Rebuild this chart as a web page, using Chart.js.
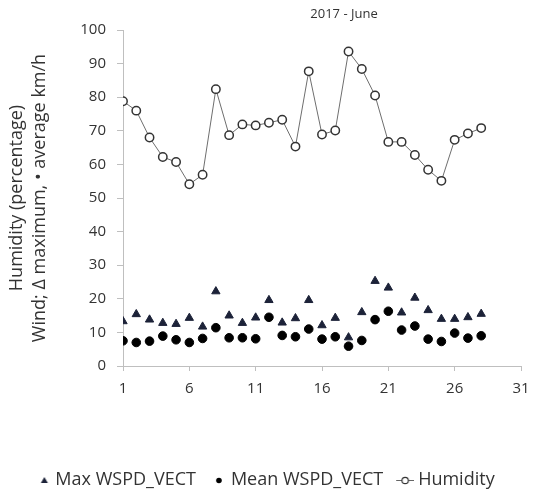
<!DOCTYPE html>
<html>
<head>
<meta charset="utf-8">
<script src="https://cdn.jsdelivr.net/npm/chart.js@4.4.0/dist/chart.umd.min.js"></script>
<style>
  html, body { margin: 0; padding: 0; background: #fff; }
  #wrap { width: 560px; height: 501px; }
</style>
</head>
<body>
<div id="wrap"><canvas id="chart" width="560" height="501"></canvas></div>
<script>
// day of month (June 2017)
const days = [1, 2, 3, 4, 5, 6, 7, 8, 9, 10, 11, 12, 13, 14, 15, 16, 17, 18, 19, 20, 21, 22, 23, 24, 25, 26, 27, 28];

// wind speed, km/h
const maxWspd = [13.3, 15.4, 13.8, 12.8, 12.5, 14.3, 11.7, 22.2, 15.0, 12.8, 14.4, 19.6, 12.9, 14.2,
                 19.6, 12.1, 14.3, 8.5, 16.0, 25.3, 23.3, 15.9, 20.3, 16.6, 14.0, 14.0, 14.5, 15.5];
const meanWspd = [7.5, 7.0, 7.4, 8.9, 7.8, 7.0, 8.2, 11.4, 8.4, 8.4, 8.1, 14.5, 9.1, 8.7,
                  11.0, 8.0, 8.7, 5.9, 7.6, 13.8, 16.3, 10.7, 11.9, 8.0, 7.3, 9.8, 8.3, 9.0];

// relative humidity, %
const humidity = [78.8, 76.0, 68.0, 62.2, 60.7, 54.1, 56.9, 82.4, 68.7, 71.9, 71.6, 72.4, 73.3, 65.3,
                  87.7, 68.9, 70.1, 93.6, 88.4, 80.5, 66.7, 66.7, 62.8, 58.4, 55.1, 67.3, 69.2, 70.8];

const xTicks = [1, 6, 11, 16, 21, 26, 31];
const seriesNames = ['Max WSPD_VECT', 'Mean WSPD_VECT', 'Humidity'];
const chartTitle = '2017 - June';

const FONT = "'Open Sans', 'DejaVu Sans', sans-serif";
const TEXT = '#333333';
const AXIS = '#bfbfbf';

function pts(vals) {
  return days.map((d, i) => ({ x: d, y: vals[i] }));
}

// legend icons, 30px wide canvases drawn centred on the 20px legend box
function icon(draw) {
  const c = document.createElement('canvas');
  c.width = 30; c.height = 12;
  draw(c.getContext('2d'));
  return c;
}
const triIcon = icon(g => {
  g.fillStyle = '#1c2238';
  g.beginPath(); g.moveTo(23, 3); g.lineTo(26.5, 9); g.lineTo(19.5, 9); g.closePath(); g.fill();
});
const dotIcon = icon(g => {
  g.fillStyle = '#000';
  g.beginPath(); g.arc(22, 6.5, 2.8, 0, Math.PI * 2); g.fill();
});
const humIcon = icon(g => {
  g.strokeStyle = '#666'; g.lineWidth = 1;
  g.beginPath(); g.moveTo(12, 6.5); g.lineTo(30, 6.5); g.stroke();
  g.fillStyle = '#fff'; g.strokeStyle = '#333'; g.lineWidth = 1.2;
  g.beginPath(); g.arc(21, 6.5, 3.2, 0, Math.PI * 2); g.fill(); g.stroke();
});
const icons = [triIcon, dotIcon, humIcon];

// title sits a little right of the plot centre, as in the original
const titlePlugin = {
  id: 'offsetTitle',
  afterDraw(ch) {
    const a = ch.chartArea;
    const g = ch.ctx;
    g.save();
    g.font = '13px ' + FONT;
    g.fillStyle = TEXT;
    g.textAlign = 'center';
    g.textBaseline = 'middle';
    g.fillText(chartTitle, (a.left + a.right) / 2 + 22, a.top - 16);
    g.restore();
  }
};

const ctx = document.getElementById('chart').getContext('2d');
const chart = new Chart(ctx, {
  type: 'scatter',
  data: {
    datasets: [
      {
        label: seriesNames[0],
        data: pts(maxWspd),
        pointStyle: 'triangle',
        pointRadius: 4.8,
        backgroundColor: '#1c2238',
        borderColor: '#1c2238',
        borderWidth: 1,
        showLine: false
      },
      {
        label: seriesNames[1],
        data: pts(meanWspd),
        pointStyle: 'circle',
        pointRadius: 4.3,
        backgroundColor: '#000',
        borderColor: '#000',
        borderWidth: 1,
        showLine: false
      },
      {
        label: seriesNames[2],
        data: pts(humidity),
        pointStyle: 'circle',
        pointRadius: 4.2,
        pointBackgroundColor: '#fff',
        pointBorderColor: '#333',
        pointBorderWidth: 1.5,
        borderColor: '#6e6e6e',
        borderWidth: 1,
        showLine: true,
        tension: 0
      }
    ]
  },
  options: {
    responsive: false,
    animation: false,
    layout: { padding: { left: 0, right: 39, top: 30, bottom: 2 } },
    scales: {
      x: {
        type: 'linear',
        min: 1,
        max: 31,
        afterBuildTicks: scale => { scale.ticks = xTicks.map(v => ({ value: v })); },
        afterFit: scale => { scale.height = 99; },
        grid: { drawOnChartArea: false, drawTicks: true, tickLength: 5, color: AXIS },
        border: { color: AXIS, width: 1 },
        ticks: { font: { family: FONT, size: 15 }, color: TEXT, padding: 9, maxRotation: 0 }
      },
      y: {
        min: 0,
        max: 100,
        afterFit: scale => { scale.width = 123; },
        grid: { drawOnChartArea: false, drawTicks: true, tickLength: 6, color: AXIS },
        border: { color: AXIS, width: 1 },
        ticks: { stepSize: 10, font: { family: FONT, size: 15 }, color: TEXT, padding: 11 },
        title: {
          display: true,
          text: ['Humidity (percentage)', 'Wind; \u0394 maximum, \u2022 average km/h'],
          font: { family: FONT, size: 18, lineHeight: 1.3 },
          color: TEXT,
          padding: { top: 5, bottom: 0 }
        }
      }
    },
    plugins: {
      title: { display: false },
      legend: {
        position: 'bottom',
        labels: {
          usePointStyle: true,
          pointStyleWidth: 20,
          font: { family: FONT, size: 18 },
          color: TEXT,
          padding: 6,
          generateLabels: ch => ch.data.datasets.map((ds, i) => ({
            text: ds.label,
            pointStyle: icons[i],
            fillStyle: '#000',
            strokeStyle: 'rgba(0,0,0,0)',
            lineWidth: 0,
            fontColor: TEXT,
            hidden: false,
            datasetIndex: i
          }))
        }
      },
      tooltip: { enabled: false }
    }
  },
  plugins: [titlePlugin]
});
</script>
</body>
</html>
